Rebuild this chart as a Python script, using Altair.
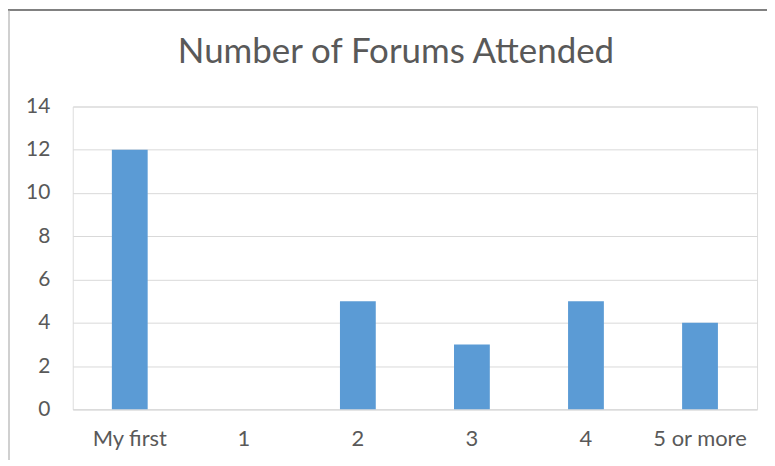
import altair as alt
import pandas as pd

categories = ["My first", "1", "2", "3", "4", "5 or more"]
counts = [12, 0, 5, 3, 5, 4]
y_ticks = [0, 2, 4, 6, 8, 10, 12, 14]

df = pd.DataFrame({"category": categories, "count": counts})

FONT = "Lato"
GRAY = "#595959"

bars = alt.Chart(df).mark_bar(color="#5B9BD5").encode(
    x=alt.X(
        "category:N",
        sort=categories,
        title=None,
        scale=alt.Scale(paddingInner=0.686, paddingOuter=0.343),
        axis=alt.Axis(
            labelAngle=0, ticks=False, domain=True, domainColor="#D9D9D9",
            domainWidth=1, labelFont=FONT, labelFontSize=22, labelColor=GRAY,
            labelPadding=19, grid=False,
        ),
    ),
    y=alt.Y(
        "count:Q",
        title=None,
        scale=alt.Scale(domain=[0, 14]),
        axis=alt.Axis(
            values=y_ticks, ticks=False, domain=False, grid=True,
            gridColor="#D9D9D9", gridWidth=1, labelFont=FONT, labelFontSize=21,
            labelColor=GRAY, labelPadding=23,
        ),
    ),
)

border_top = alt.Chart(df).mark_rect(color="#808080").encode(
    x=alt.value(-75), x2=alt.value(720), y=alt.value(-98), y2=alt.value(-96.5)
)
border_left = alt.Chart(df).mark_rule(color="#d0d0d0", strokeWidth=1).encode(
    x=alt.value(-64), y=alt.value(-96), y2=alt.value(370)
)

chart = alt.layer(bars, border_top, border_left).properties(
    width=687,
    height=304,
    autosize=alt.AutoSizeParams(type="none"),
    padding={"left": 65, "top": 98, "right": 10, "bottom": 50},
    title=alt.TitleParams(
        "Number of Forums Attended", font=FONT, fontSize=35, color=GRAY,
        fontWeight="normal", anchor="middle", dx=-19, offset=-61,
    ),
).configure_view(stroke=None).configure(background="white")

chart.save("out.html", embed_options={"renderer": "svg", "actions": False})
